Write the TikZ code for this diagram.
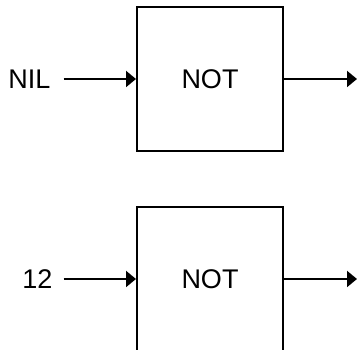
\documentclass[tikz,border=0pt]{standalone}
\usepackage{fontspec}
\setmainfont{Liberation Sans}
\usetikzlibrary{arrows.meta}

\begin{document}
\begin{tikzpicture}[x=1pt, y=-1pt, >={Triangle[length=10pt, width=16pt]}, line width=2pt,
		gate/.style={draw, minimum width=146pt, minimum height=144pt, inner sep=0pt, font=\fontsize{27}{32}\selectfont},
		lbl/.style={inner sep=0pt, font=\fontsize{27}{32}\selectfont}]
	\useasboundingbox (0,0) rectangle (357,350);
	% first gate
	\node[gate] (not1) at (210,79) {NOT};
	\node[lbl] (in1) at (29.5,79) {NIL};
	\coordinate (out1) at (357,79);
	\draw[->] ([xshift=12pt]in1.east) -- (not1.west);
	\draw[->] (not1.east) -- (out1);
	% second gate
	\node[gate] (not2) at (210,279) {NOT};
	\node[lbl] (in2) at (37.5,279) {12};
	\coordinate (out2) at (357,279);
	\draw[->] ([xshift=10pt]in2.east) -- (not2.west);
	\draw[->] (not2.east) -- (out2);
\end{tikzpicture}
\end{document}
